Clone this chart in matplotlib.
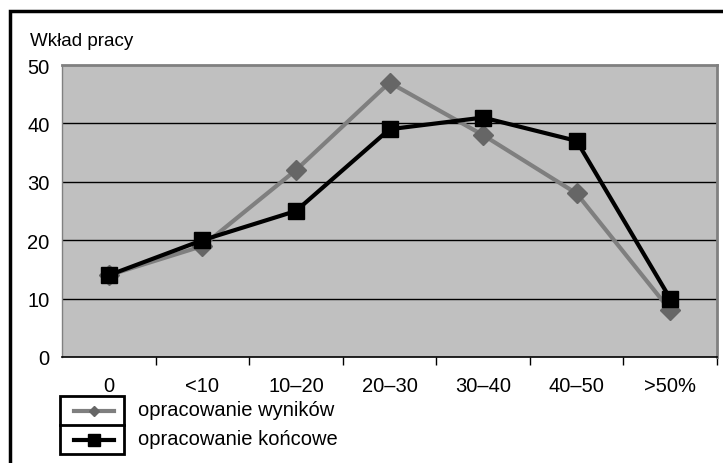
import matplotlib
matplotlib.use("Agg")
import matplotlib.pyplot as plt
from matplotlib.lines import Line2D
from matplotlib.patches import Rectangle

categories = ["0", "<10", "10–20", "20–30", "30–40", "40–50", ">50%"]
wynikow = [14, 19, 32, 47, 38, 28, 8]
koncowe = [14, 20, 25, 39, 41, 37, 10]
series_names = ["opracowanie wyników", "opracowanie końcowe"]
y_ticks = [0, 10, 20, 30, 40, 50]

plt.rcParams['font.family'] = ['Liberation Sans', 'DejaVu Sans']

W, H = 723, 464
fig = plt.figure(figsize=(W / 100, H / 100), dpi=100)

def fx(px):
    return px / W

def fy(py):
    return 1 - py / H

FS = 14.5

ax = fig.add_axes([fx(62), fy(358), fx(717) - fx(62), fy(66) - fy(358)])
ax.set_facecolor('#C0C0C0')
x = list(range(len(categories)))

gray = '#7F7F7F'
ax.plot(x, wynikow, color=gray, lw=3, marker='D', ms=10, mfc='#666666', mec='#666666', zorder=3)
ax.plot(x, koncowe, color='black', lw=3, marker='s', ms=12, mfc='black', mec='black', zorder=4)

ax.set_xlim(-0.5, len(categories) - 0.5)
ax.set_ylim(0, 50)
ax.set_yticks(y_ticks)
ax.set_yticklabels([str(v) for v in y_ticks], fontsize=FS)
ax.tick_params(axis='y', length=0, pad=9)
for v in y_ticks[1:-1]:
    ax.axhline(v, color='black', lw=1, zorder=1)

ax.set_xticks([i - 0.5 for i in range(1, len(categories) + 1)])
ax.set_xticklabels([])
ax.set_xticks(x, minor=True)
ax.set_xticklabels(categories, minor=True, fontsize=FS)
ax.tick_params(axis='x', which='major', length=6, width=1, direction='out', color='black')
ax.tick_params(axis='x', which='minor', length=0, pad=14)

for s in ['top', 'right']:
    ax.spines[s].set_color('#808080')
    ax.spines[s].set_linewidth(2)
ax.spines['left'].set_color('#808080')
ax.spines['left'].set_linewidth(1)
ax.spines['bottom'].set_color('black')
ax.spines['bottom'].set_linewidth(1.2)

fig.text(fx(30), fy(42), "Wkład pracy", fontsize=13.5, va='center', ha='left')

# outer frame
fig.patches.append(Rectangle((fx(10), fy(480)), fx(745) - fx(10), fy(12) - fy(480),
                             transform=fig.transFigure, fill=False, edgecolor='black', lw=2.5))

# legend
fig.patches.append(Rectangle((fx(60), fy(455)), fx(124) - fx(60), fy(397) - fy(455),
                             transform=fig.transFigure, fill=False, edgecolor='black', lw=2))
fig.lines.append(Line2D([fx(60), fx(124)], [fy(426), fy(426)], transform=fig.transFigure,
                        color='black', lw=2))
fig.lines.append(Line2D([fx(74), fx(94), fx(114)], [fy(412), fy(412), fy(412)],
                        transform=fig.transFigure, color=gray, lw=3, marker='D', ms=5,
                        markevery=[1], mfc='#666666', mec='#666666'))
fig.lines.append(Line2D([fx(74), fx(94), fx(114)], [fy(441), fy(441), fy(441)],
                        transform=fig.transFigure, color='black', lw=3, marker='s', ms=8,
                        markevery=[1]))
fig.text(fx(138), fy(411), series_names[0], fontsize=FS, va='center', ha='left')
fig.text(fx(138), fy(440), series_names[1], fontsize=FS, va='center', ha='left')

fig.savefig("out.png", dpi=100)
